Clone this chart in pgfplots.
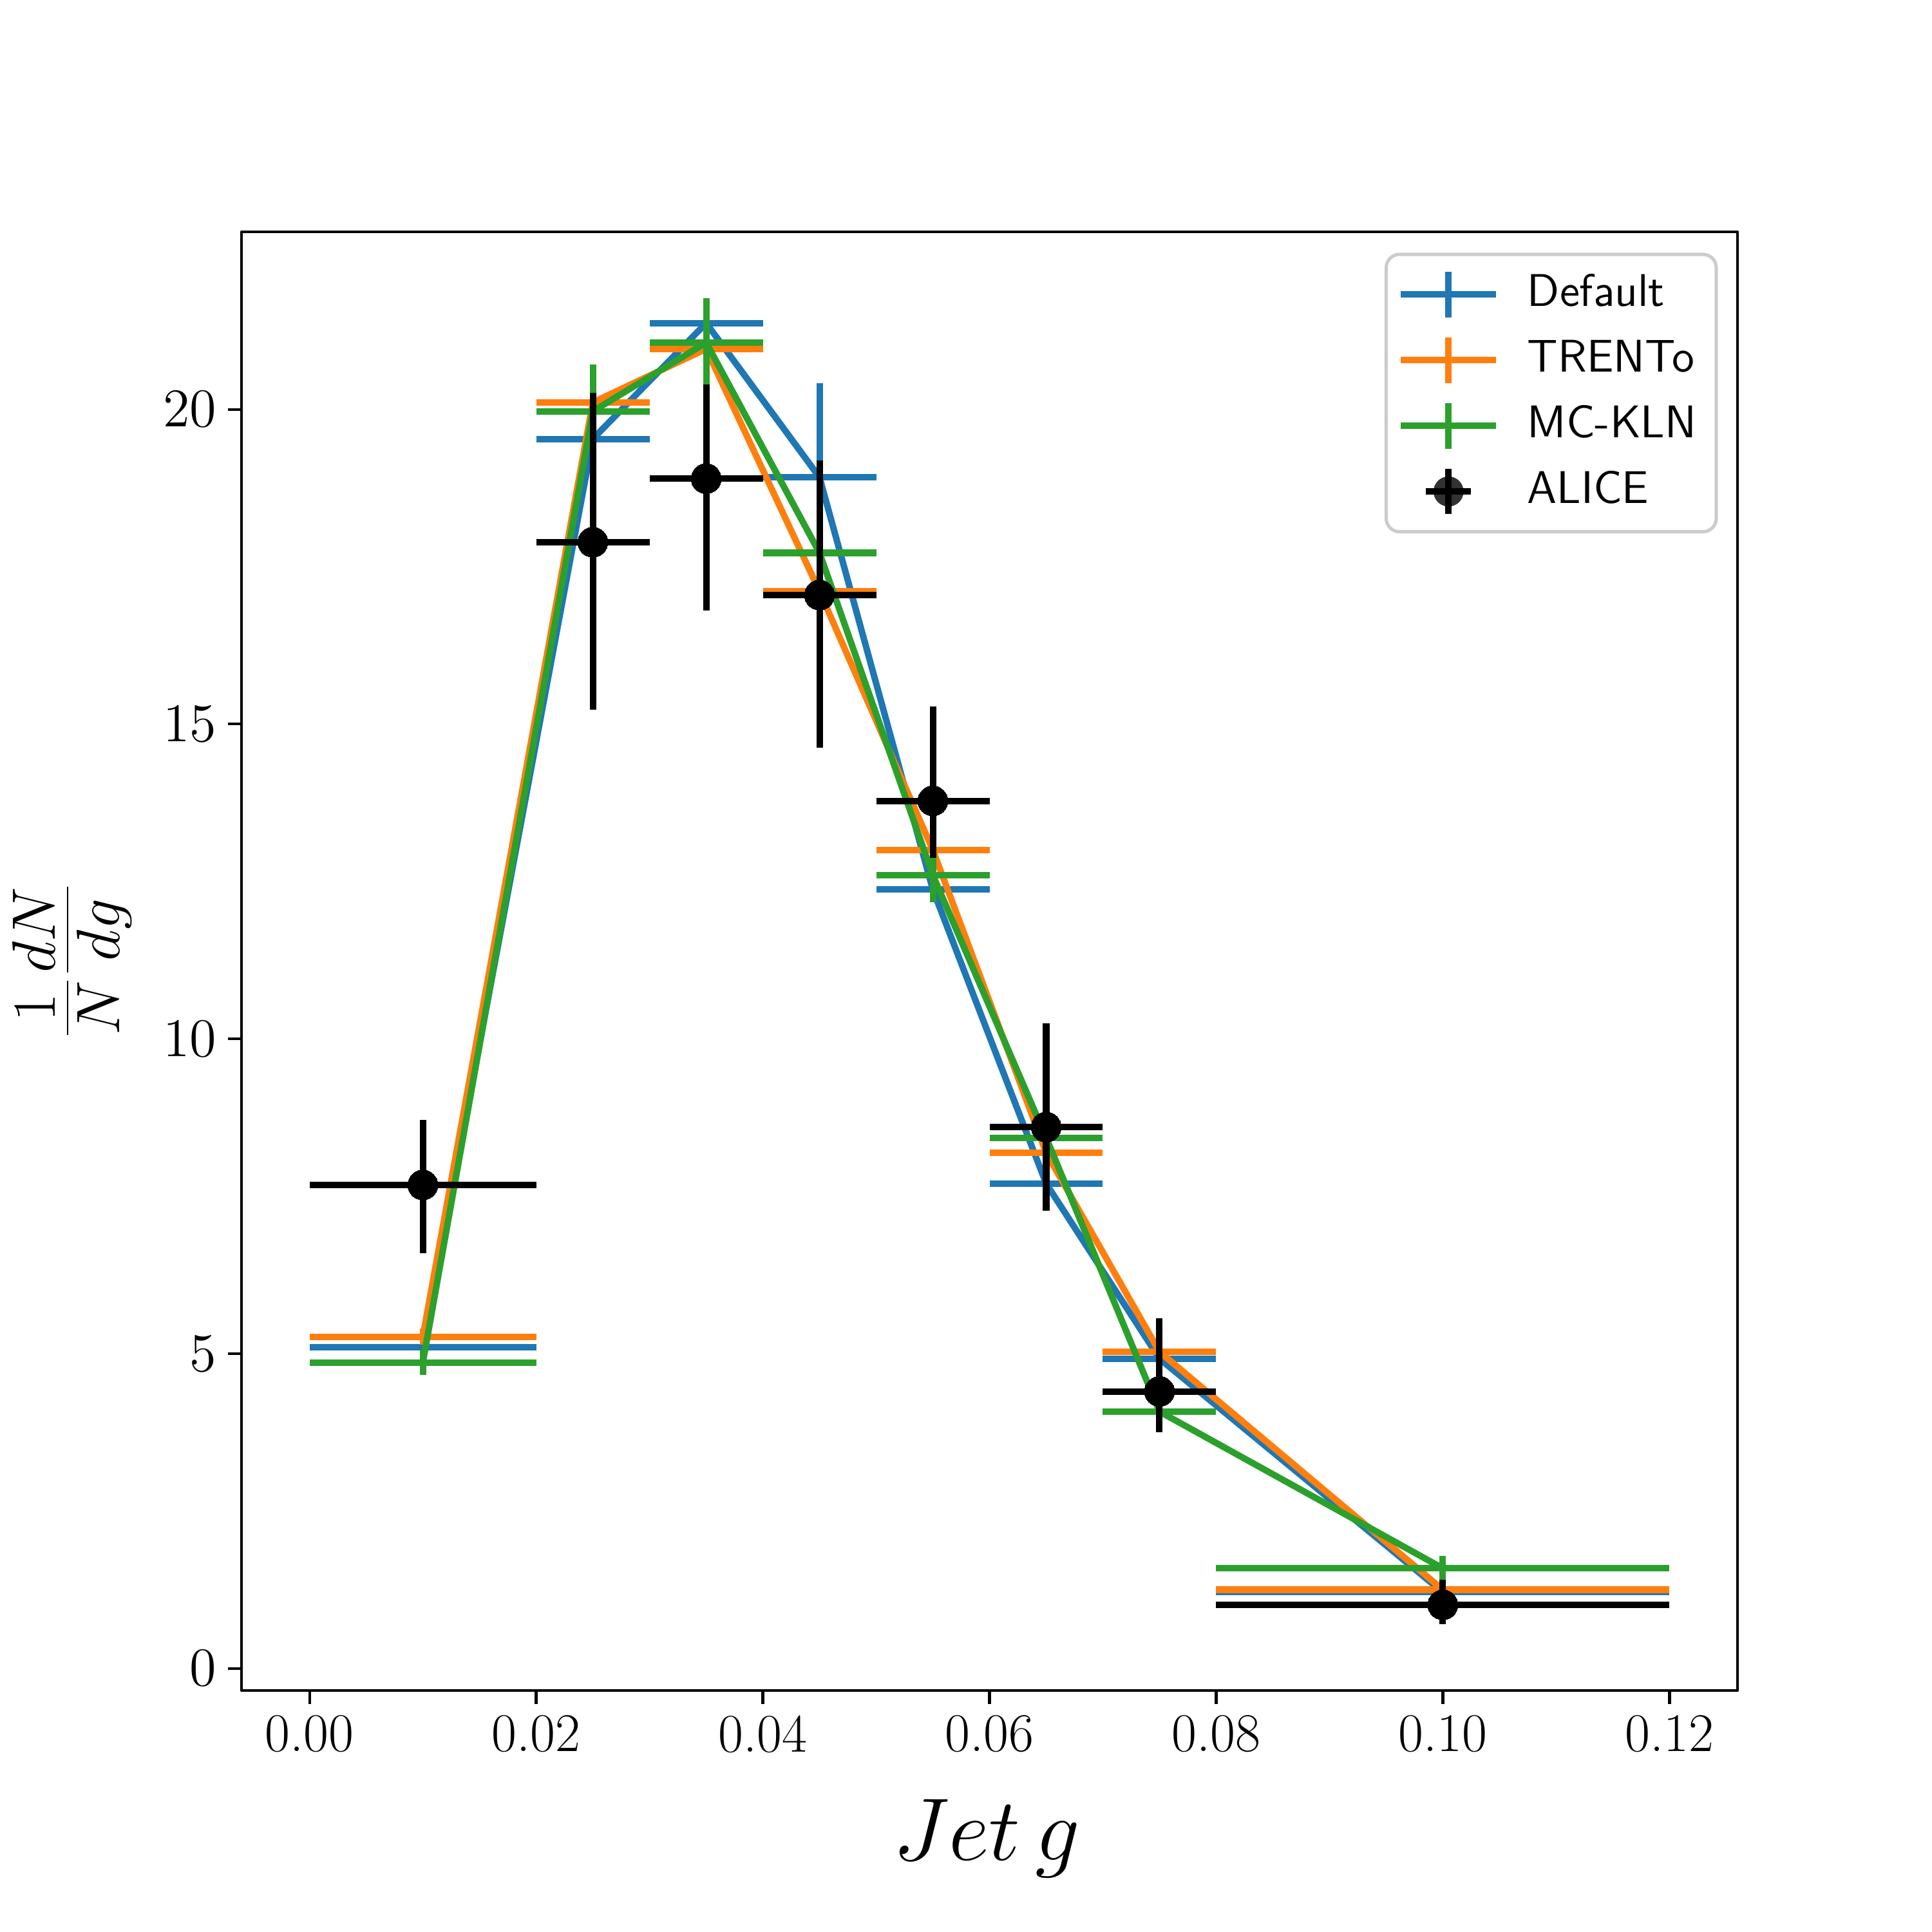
\RequirePackage{fix-cm}
\documentclass[border=0pt]{standalone}
\usepackage{fontspec}
\usepackage{pgfplots}
\pgfplotsset{compat=1.18}
\definecolor{tabblue}{HTML}{1F77B4}
\definecolor{taborange}{HTML}{FF7F0E}
\definecolor{tabgreen}{HTML}{2CA02C}
\pgfplotsset{
  modelleg/.style={legend image code/.code={
      \path[draw=none,fill=none] (0pt,-7.75pt) rectangle (30.7pt,7.75pt);
      \draw[#1,line width=1.93pt,overlay,fill=none] (-1.5pt,0pt) -- (27pt,0pt);
      \draw[#1,line width=1.93pt,overlay,fill=none] (12.75pt,-6.8pt) -- (12.75pt,6.8pt);}},
}
\begin{document}
\begin{tikzpicture}
\path[use as bounding box] (-72.27pt,-72.27pt) rectangle (505.9pt,505.88pt);
\begin{axis}[
  at={(0pt,0pt)}, anchor=south west,
  scale only axis, width=447.7pt, height=436.5pt,
  xmin=-0.006, xmax=0.126, ymin=-0.35, ymax=22.82,
  xtick={0,0.02,0.04,0.06,0.08,0.10,0.12},
  xticklabels={0.00,0.02,0.04,0.06,0.08,0.10,0.12},
  ytick={0,5,10,15,20},
  tick pos=left, tick align=outside, major tick length=4pt,
  every tick/.style={black, line width=0.8pt},
  axis line style={line width=0.9pt},
  tick label style={font=\fontsize{16.3}{19}\selectfont},
  xlabel={$Jet\,g$},
  ylabel={$\frac{1}{N}\frac{dN}{dg}$},
  xlabel style={font=\fontsize{26.6}{30}\selectfont, at={(axis description cs:0.498,-0.1162)}, anchor=base},
  ylabel style={font=\fontsize{26.2}{30}\selectfont, at={(axis description cs:-0.1133,0.5)}, anchor=center},
  legend style={at={(0.9869,0.9857)}, anchor=north east, draw=black!20, line width=1pt,
    rounded corners=4pt, fill=white, fill opacity=0.8, text opacity=1,
    font=\sffamily\fontsize{13.7}{16}\selectfont,
    inner xsep=5.9pt, inner ysep=4.3pt, row sep=4.14pt, column sep=5.7pt,
    nodes={inner sep=0pt, text height=9.5pt, text depth=2.5pt}},
  legend cell align=left,
  line join=round,
]
\addplot[tabblue, line width=1.93pt, mark=none, modelleg,
  error bars/.cd, x dir=both, x explicit, y dir=both, y explicit, error mark=none,
  error bar style={line width=1.93pt, line join=miter}]
coordinates {
 (0.010,5.10) +- (0.010,0.10)
 (0.025,19.53) +- (0.005,0.05)
 (0.035,21.37) +- (0.005,0.05)
 (0.045,18.92) +- (0.005,1.50)
 (0.055,12.37) +- (0.005,0.05)
 (0.065,7.70) +- (0.005,0.05)
 (0.075,4.92) +- (0.005,0.05)
 (0.100,1.21) +- (0.020,0.05)
};
\addlegendentry{Default}
\addplot[taborange, line width=1.93pt, mark=none, modelleg,
  error bars/.cd, x dir=both, x explicit, y dir=both, y explicit, error mark=none,
  error bar style={line width=1.93pt}]
coordinates {
 (0.010,5.27) +- (0.010,0.13)
 (0.025,20.11) +- (0.005,0.05)
 (0.035,20.96) +- (0.005,0.05)
 (0.045,17.11) +- (0.005,0.05)
 (0.055,13.00) +- (0.005,0.05)
 (0.065,8.19) +- (0.005,0.05)
 (0.075,5.03) +- (0.005,0.05)
 (0.100,1.25) +- (0.020,0.05)
};
\addlegendentry{TRENTo}
\addplot[tabgreen, line width=1.93pt, mark=none, modelleg,
  error bars/.cd, x dir=both, x explicit, y dir=both, y explicit, error mark=none,
  error bar style={line width=1.93pt}]
coordinates {
 (0.010,4.86) +- (0.010,0.20)
 (0.025,19.97) += (0.005,0.74) -= (0.005,0.74)
 (0.035,21.06) += (0.005,0.71) -= (0.005,0.66)
 (0.045,17.72) +- (0.005,0.05)
 (0.055,12.60) +- (0.005,0.43)
 (0.065,8.43) +- (0.005,0.05)
 (0.075,4.08) +- (0.005,0.05)
 (0.100,1.59) +- (0.020,0.20)
};
\addlegendentry{MC-KLN}
\addplot[black, only marks, mark=*, mark size=4.5pt, mark options={solid, fill=black, draw=black, line width=0pt},
  legend image code/.code={
    \path[draw=none,fill=none] (0pt,-7.75pt) rectangle (30.7pt,7.75pt);
    \draw[black,line width=1.93pt,overlay,fill=none] (6pt,0pt) -- (19.5pt,0pt);
    \draw[black,line width=1.93pt,overlay,fill=none] (12.75pt,-6.7pt) -- (12.75pt,6.7pt);
    \fill[black,overlay,draw=none] (12.75pt,0pt) circle (4.5pt);},
  error bars/.cd, x dir=both, x explicit, y dir=both, y explicit, error mark=none,
  error bar style={line width=1.93pt, black}]
coordinates {
 (0.010,7.68) += (0.010,1.03) -= (0.010,1.08)
 (0.025,17.89) += (0.005,2.37) -= (0.005,2.66)
 (0.035,18.90) += (0.005,1.50) -= (0.005,2.10)
 (0.045,17.05) += (0.005,2.14) -= (0.005,2.42)
 (0.055,13.78) += (0.005,1.50) -= (0.005,0.90)
 (0.065,8.60) += (0.005,1.65) -= (0.005,1.33)
 (0.075,4.40) += (0.005,1.16) -= (0.005,0.65)
 (0.100,1.01) += (0.020,0.40) -= (0.020,0.31)
};
\addlegendentry{ALICE}
\end{axis}
\end{tikzpicture}
\end{document}
